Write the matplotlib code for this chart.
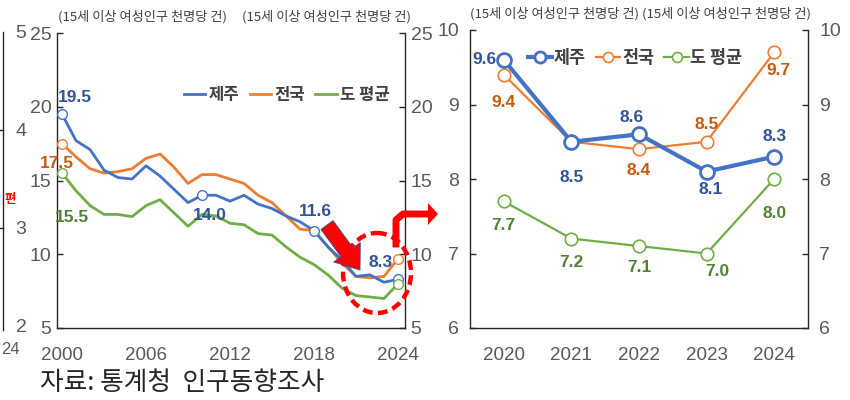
import matplotlib
matplotlib.use("Agg")
import matplotlib.pyplot as plt
from matplotlib.patches import Ellipse, Polygon, FancyArrow
from matplotlib.lines import Line2D
from matplotlib.transforms import Affine2D

NUMFONT = ['Liberation Sans', 'Noto Sans CJK KR', 'DejaVu Sans']
plt.rcParams['font.family'] = NUMFONT

# ---------------- data ----------------
years = list(range(2000, 2025))
jeju = [19.5, 17.7, 17.1, 15.7, 15.2, 15.1, 16.0, 15.3, 14.4, 13.5, 14.0, 14.0, 13.6,
        14.0, 13.4, 13.1, 12.6, 12.2, 11.6, 10.5, 9.6, 8.5, 8.6, 8.1, 8.3]
national = [17.5, 16.6, 15.8, 15.5, 15.6, 15.8, 16.5, 16.8, 15.9, 14.8, 15.4, 15.4, 15.1,
            14.8, 14.0, 13.5, 12.6, 11.7, 11.6, 10.5, 9.4, 8.5, 8.4, 8.5, 9.7]
province = [15.5, 14.3, 13.3, 12.7, 12.7, 12.55, 13.3, 13.7, 12.8, 11.9, 12.7, 12.6, 12.1,
            12.0, 11.4, 11.3, 10.5, 9.8, 9.3, 8.6, 7.7, 7.2, 7.1, 7.0, 8.0]
series_names = ['제주', '전국', '도 평균']
left_xticks = [2000, 2006, 2012, 2018, 2024]
left_yticks = [5, 10, 15, 20, 25]
right_years = ['2020', '2021', '2022', '2023', '2024']
right_yticks = [6, 7, 8, 9, 10]
unit_label = '(15세 이상 여성인구 천명당 건)'
source_label = '자료: 통계청  인구동향조사'

C_BLUE, C_ORANGE, C_GREEN = '#4472C4', '#ED7D31', '#70AD47'
L_BLUE, L_ORANGE, L_GREEN = '#2F5597', '#C55A11', '#548235'
GREY = '#595959'

W, H = 850, 400
fig = plt.figure(figsize=(8.5, 4), dpi=100)
# transform in reference pixel units (origin top-left)
PX = Affine2D().scale(1, -1).translate(0, H).scale(1 / W, 1 / H) + fig.transFigure

def fx(px):
    return px / W

def fy(py):
    return 1 - py / H

def style_axes(ax, pad_l):
    ax.spines['top'].set_visible(False)
    for s in ('left', 'right', 'bottom'):
        ax.spines[s].set_color('#262626')
        ax.spines[s].set_linewidth(1.0)
    ax.tick_params(axis='y', which='both', direction='in', length=4, width=1,
                   left=True, right=True, labelleft=True, labelright=True,
                   labelsize=14, labelcolor=GREY, color='#262626', pad=pad_l)
    ax.tick_params(axis='x', length=0, labelsize=13.5, labelcolor=GREY, pad=14)
    ax.set_facecolor('none')

# ---------------- left panel ----------------
ax1 = fig.add_axes([fx(57), fy(328), fx(405) - fx(57), fy(33) - fy(328)])
ax1.plot(years, jeju, color=C_BLUE, lw=2.0, label=series_names[0], zorder=4)
ax1.plot(years, national, color=C_ORANGE, lw=2.0, label=series_names[1], zorder=3)
ax1.plot(years, province, color=C_GREEN, lw=2.0, label=series_names[2], zorder=3)
mk = dict(marker='o', ms=7, mfc='white', mew=1.0, ls='none', zorder=5)
for idx in (0, 10, 18, 24):
    ax1.plot(years[idx], jeju[idx], mec=C_BLUE, **mk)
for idx in (0, 24):
    ax1.plot(years[idx], national[idx], mec=C_ORANGE, **mk)
    ax1.plot(years[idx], province[idx], mec=C_GREEN, **mk)
ax1.set_xlim(1999.64, 2024.5)
ax1.set_ylim(5, 25)
ax1.set_xticks(left_xticks)
ax1.set_xticklabels([str(v) for v in left_xticks])
ax1.set_yticks(left_yticks)
style_axes(ax1, 4)
ax1.legend(loc='center', bbox_to_anchor=((287 - 57) / 348, (328 - 95) / 295), ncol=3,
           frameon=False, handlelength=1.3, handletextpad=0.2, columnspacing=0.6,
           prop={'family': ['Noto Sans CJK KR'], 'size': 12, 'weight': 'bold'},
           labelcolor='#404040')

lab = dict(fontsize=12.5, fontweight='bold', ha='center', va='center',
           textcoords='offset points', zorder=6)
def ann(ax, x, y, txt, dx, dy, color):
    ax.annotate(txt, (x, y), xytext=(dx * 0.72, dy * 0.72), color=color, **lab)

ann(ax1, years[0], jeju[0], f'{jeju[0]:.1f}', 13, 17, L_BLUE)
ann(ax1, years[0], national[0], f'{national[0]:.1f}', -5, -20, L_ORANGE)
ann(ax1, years[0], province[0], f'{province[0]:.1f}', 10, -44, L_GREEN)
ann(ax1, years[10], jeju[10], f'{jeju[10]:.1f}', 8, -20, L_BLUE)
ann(ax1, years[18], jeju[18], f'{jeju[18]:.1f}', 1, 19, L_BLUE)
ann(ax1, years[24], jeju[24], f'{jeju[24]:.1f}', -17, 17, L_BLUE)

# ---------------- right panel ----------------
ax2 = fig.add_axes([fx(470), fy(328), fx(808) - fx(470), fy(30) - fy(328)])
xr = list(range(len(right_years)))
ax2.plot(xr, jeju[-5:], color=C_BLUE, lw=3.0, marker='o', ms=10, mfc='white',
         mec=C_BLUE, mew=2.0, label=series_names[0], zorder=4)
ax2.plot(xr, national[-5:], color=C_ORANGE, lw=1.6, marker='o', ms=9, mfc='white',
         mec=C_ORANGE, mew=1.2, label=series_names[1], zorder=3)
ax2.plot(xr, province[-5:], color=C_GREEN, lw=1.6, marker='o', ms=9, mfc='white',
         mec=C_GREEN, mew=1.2, label=series_names[2], zorder=3)
ax2.set_xlim(-0.5, 4.5)
ax2.set_ylim(6, 10)
ax2.set_xticks(xr)
ax2.set_xticklabels(right_years)
ax2.set_yticks(right_yticks)
style_axes(ax2, 8)
ax2.legend(loc='center', bbox_to_anchor=((635 - 470) / 338, (328 - 58) / 298), ncol=3,
           frameon=False, handlelength=1.4, handletextpad=0.1, columnspacing=0.6,
           prop={'family': ['Noto Sans CJK KR'], 'size': 12.5, 'weight': 'bold'},
           labelcolor='#404040', markerscale=0.8)

j, n, p = jeju[-5:], national[-5:], province[-5:]
jo = [(-19, 0), (0, -36), (-7, 17), (4, -18), (0, 20)]
no = [(0, -28), None, (0, -21), (0, 17), (4, -18)]
po = [(0, -24), (0, -24), (0, -21), (11, -18), (0, -35)]
for i in xr:
    ann(ax2, i, j[i], f'{j[i]:.1f}', *jo[i], L_BLUE)
    if no[i] is not None:
        ann(ax2, i, n[i], f'{n[i]:.1f}', *no[i], L_ORANGE)
    ann(ax2, i, p[i], f'{p[i]:.1f}', *po[i], L_GREEN)

# ---------------- headers / source ----------------
hdr = dict(fontsize=9.5, color='#404040', ha='center', va='center',
           family=['Noto Sans CJK KR', 'DejaVu Sans'])
fig.text(fx(142), fy(17), unit_label, **hdr)
fig.text(fx(326), fy(17), unit_label, **hdr)
fig.text(fx(554), fy(14), unit_label, **hdr)
fig.text(fx(727), fy(14), unit_label, **hdr)
fig.text(fx(40), fy(383), source_label, fontsize=18.5, color='#262626', ha='left',
         va='center', family=['Noto Sans CJK KR', 'DejaVu Sans'])

# ---------------- cropped neighbour-chart remnants ----------------
fig.add_artist(Line2D([3, 3], [32, 330], transform=PX, color='#262626', lw=1))
for yy in (130, 228):
    fig.add_artist(Line2D([0, 3], [yy, yy], transform=PX, color='#262626', lw=1))
for t, yy in (('5', 33), ('4', 131), ('3', 229), ('2', 328)):
    fig.text(fx(21), fy(yy), t, fontsize=14, color=GREY, ha='center', va='center')
fig.text(fx(1), fy(350), '24', fontsize=12, color=GREY, ha='left', va='center')
fig.text(fx(5), fy(200), '편', fontsize=9, color='red', ha='left', va='center',
         fontweight='bold', family=['Noto Sans CJK KR'])

# ---------------- red highlight annotations ----------------
fig.add_artist(Ellipse((377, 273), 68, 80, transform=PX, fill=False,
                       edgecolor='#FF0000', lw=3.2, ls=(0, (2.2, 1.2)), zorder=10))
fig.add_artist(FancyArrow(327, 225, 33, 45, width=15, head_width=33, head_length=22,
                          length_includes_head=True, transform=PX,
                          facecolor='#FF0000', edgecolor='#2F5597', lw=0.6, zorder=10))
fig.add_artist(Line2D([396, 396, 403, 430], [244, 220, 214, 214], transform=PX,
                      color='#FF0000', lw=5, solid_joinstyle='round', zorder=10))
fig.add_artist(Polygon([(428, 203), (438, 214), (428, 225)], closed=True, transform=PX,
                       facecolor='#FF0000', edgecolor='none', zorder=10))

fig.savefig('out.png', dpi=100)
